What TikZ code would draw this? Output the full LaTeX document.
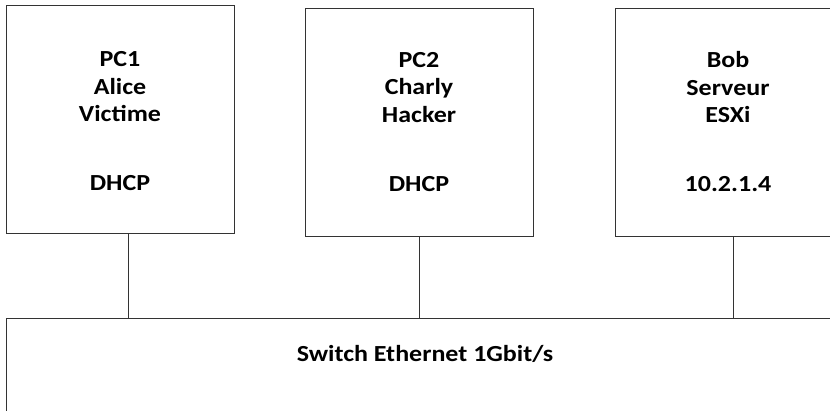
\documentclass[tikz,border=0pt]{standalone}
\usepackage{fontspec}
\setmainfont{Carlito}[FakeStretch=1.13]
\usetikzlibrary{positioning}
\tikzset{
  hostbox/.style={draw=black!80,line width=0.9pt,minimum width=228pt,
    minimum height=228pt,inner sep=0pt,align=center,
    font=\bfseries\fontsize{23}{27.5}\selectfont},
  link/.style={draw=black!80,line width=0.9pt},
}

\begin{document}
\begin{tikzpicture}[x=1pt,y=-1pt]
  % cadre de la page
  \useasboundingbox (0,0) rectangle (830,410);
  \clip (0,0) rectangle (830,410);

  % les trois machines
  \node[hostbox] (pc1) at (120,119) {\rule{0pt}{20pt}PC1\\Alice\\Victime\\[41.5pt]DHCP};
  \node[hostbox] (pc2) at (419,122) {PC2\\Charly\\Hacker\\[41.5pt]DHCP};
  \node[hostbox,minimum width=226pt] (bob) at (728,122) {Bob\\Serveur\\ESXi\\[41.5pt]10.2.1.4};

  % le switch
  \node[draw=black!80,line width=0.9pt,minimum width=837pt,minimum height=120pt,
    anchor=north west] (switch) at (6,318) {};
  \node[font=\bfseries\fontsize{23}{27.5}\selectfont,below=24pt of switch.north]
    (switchlabel) {Switch Ethernet 1Gbit/s};

  % cables
  \draw[link] ([xshift=8pt]pc1.south) -- ([xshift=8pt]pc1.south |- switch.north);
  \draw[link] (pc2.south) -- (pc2.south |- switch.north);
  \draw[link] ([xshift=5pt]bob.south) -- ([xshift=5pt]bob.south |- switch.north);
\end{tikzpicture}
\end{document}
